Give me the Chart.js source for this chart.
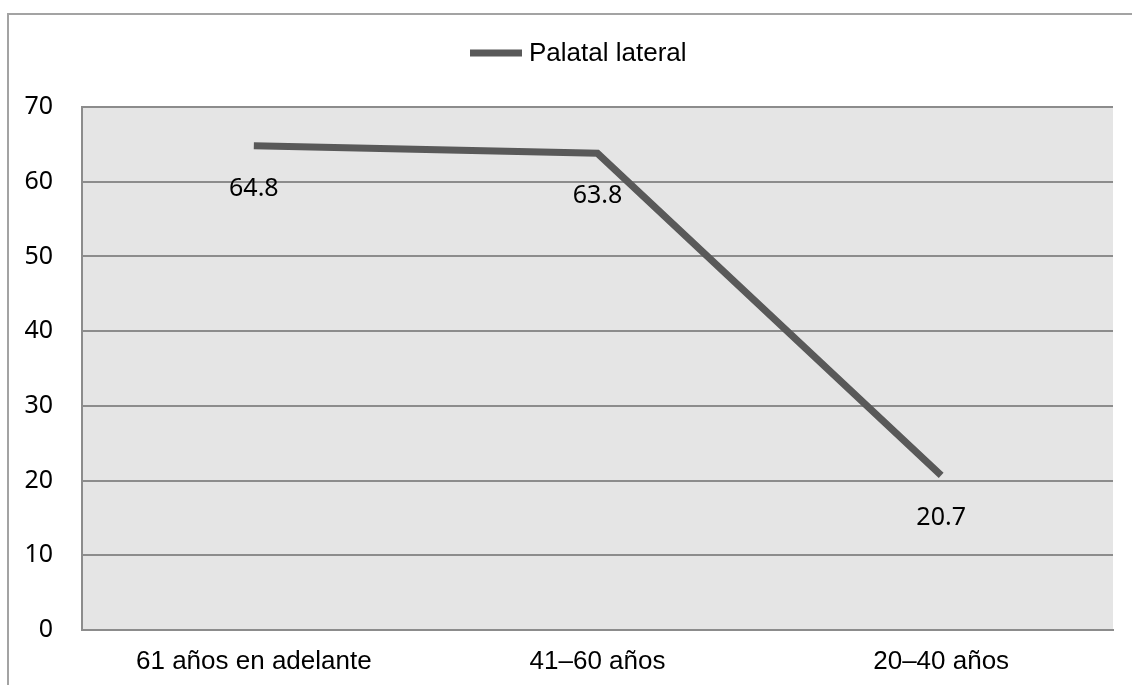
<!DOCTYPE html>
<html>
<head>
<meta charset="utf-8">
<script src="https://cdn.jsdelivr.net/npm/chart.js@4.4.1/dist/chart.umd.min.js"></script>
<style>
  html, body { margin: 0; padding: 0; background: #ffffff; }
  #wrap { width: 1132px; height: 685px; position: relative; }
</style>
</head>
<body>
<div id="wrap"><canvas id="c" width="1132" height="685"></canvas></div>
<script>
// Age groups and the share of lateral palatal realisations in each
const categories = ['61 años en adelante', '41–60 años', '20–40 años'];
const seriesName = 'Palatal lateral';
const palatalLateral = [64.8, 63.8, 20.7];
const yTicks = [0, 10, 20, 30, 40, 50, 60, 70];

const LINE_COLOR = '#595959';
const GRID_COLOR = '#8c8c8c';

// Gray plot panel behind the series
const panelBackground = {
  id: 'panelBackground',
  beforeDraw(chart) {
    const { ctx, chartArea: a } = chart;
    ctx.save();
    ctx.fillStyle = '#e5e5e5';
    ctx.fillRect(a.left, a.top, a.right - a.left, a.bottom - a.top);
    ctx.restore();
  }
};

// Thin frame along the top and left edges of the figure
const outerFrame = {
  id: 'outerFrame',
  beforeDraw(chart) {
    const { ctx, width, height } = chart;
    ctx.save();
    ctx.strokeStyle = '#a3a3a3';
    ctx.lineWidth = 2;
    ctx.beginPath();
    ctx.moveTo(8, height);
    ctx.lineTo(8, 14);
    ctx.lineTo(width, 14);
    ctx.stroke();
    ctx.restore();
  }
};

// Legend entry centred above the panel
const topLegend = {
  id: 'topLegend',
  afterDraw(chart) {
    const { ctx } = chart;
    const ds = chart.data.datasets[0];
    ctx.save();
    ctx.strokeStyle = ds.borderColor;
    ctx.lineWidth = 7;
    ctx.beginPath();
    ctx.moveTo(470, 53);
    ctx.lineTo(522, 53);
    ctx.stroke();
    ctx.fillStyle = '#000000';
    ctx.font = '26px "Liberation Sans", Arial, sans-serif';
    ctx.textAlign = 'left';
    ctx.textBaseline = 'alphabetic';
    ctx.fillText(ds.label, 529, 61);
    ctx.restore();
  }
};

// Value labels written under each point
const valueLabels = {
  id: 'valueLabels',
  afterDatasetsDraw(chart) {
    const { ctx } = chart;
    const meta = chart.getDatasetMeta(0);
    const values = chart.data.datasets[0].data;
    ctx.save();
    ctx.fillStyle = '#000000';
    ctx.font = '25px "Noto Sans", "Open Sans", sans-serif';
    ctx.textAlign = 'center';
    ctx.textBaseline = 'middle';
    meta.data.forEach((pt, i) => {
      ctx.fillText(String(values[i]), pt.x, pt.y + 43);
    });
    ctx.restore();
  }
};

new Chart(document.getElementById('c'), {
  type: 'line',
  data: {
    labels: categories,
    datasets: [{
      label: seriesName,
      data: palatalLateral,
      borderColor: LINE_COLOR,
      backgroundColor: LINE_COLOR,
      borderWidth: 7,
      pointRadius: 0,
      pointHoverRadius: 0,
      tension: 0,
      fill: false,
      borderCapStyle: 'butt',
      borderJoinStyle: 'miter'
    }]
  },
  options: {
    responsive: false,
    animation: false,
    devicePixelRatio: 1,
    layout: { padding: { left: 0, right: 19, top: 107, bottom: 0 } },
    plugins: {
      legend: { display: false },
      tooltip: { enabled: false },
      title: { display: false }
    },
    scales: {
      x: {
        type: 'category',
        offset: true,
        grid: { display: false, drawTicks: false },
        border: { display: true, color: GRID_COLOR, width: 2 },
        ticks: {
          color: '#000000',
          padding: 16,
          maxRotation: 0,
          autoSkip: false,
          font: { family: '"Liberation Sans", Arial, sans-serif', size: 26 }
        },
        afterFit(scale) { scale.height = 55; }
      },
      y: {
        min: 0,
        max: 70,
        afterBuildTicks(scale) { scale.ticks = yTicks.map(v => ({ value: v })); },
        grid: { color: GRID_COLOR, lineWidth: 2, drawTicks: false },
        border: { display: true, color: GRID_COLOR, width: 2 },
        ticks: {
          color: '#000000',
          padding: 29,
          labelOffset: 0,
          font: { family: '"Noto Sans", "Open Sans", sans-serif', size: 25 }
        },
        afterFit(scale) { scale.width = 82; }
      }
    }
  },
  plugins: [outerFrame, panelBackground, topLegend, valueLabels]
});
</script>
</body>
</html>
